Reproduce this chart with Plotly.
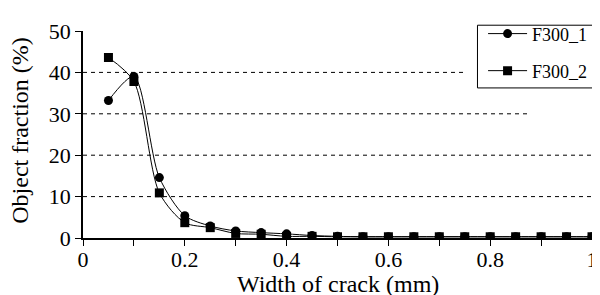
import plotly.graph_objects as go

width_mm = [0.05, 0.10, 0.15, 0.20, 0.25, 0.30, 0.35, 0.40, 0.45, 0.50,
            0.55, 0.60, 0.65, 0.70, 0.75, 0.80, 0.85, 0.90, 0.95, 1.00]
f300_1 = [33.2, 39.0, 14.6, 5.4, 2.9, 1.7, 1.3, 1.0, 0.6, 0.4,
          0.3, 0.3, 0.3, 0.3, 0.3, 0.3, 0.3, 0.3, 0.3, 0.3]
f300_2 = [43.6, 37.8, 10.9, 3.7, 2.5, 1.1, 0.9, 0.4, 0.4, 0.3,
          0.3, 0.3, 0.3, 0.3, 0.3, 0.3, 0.3, 0.3, 0.3, 0.3]
grid_levels = [10, 20, 30, 40]
grid_ends = [1.0, 1.0, 0.876, 0.753]

FONT = "Times New Roman, Liberation Serif, serif"

fig = go.Figure()
fig.add_trace(go.Scatter(x=width_mm, y=f300_1, name="F300_1", mode="lines+markers",
                         line=dict(color="black", width=1, shape="spline", smoothing=0.8),
                         marker=dict(symbol="circle", size=9, color="black"),
                         legend="legend"))
fig.add_trace(go.Scatter(x=width_mm, y=f300_2, name="F300_2", mode="lines+markers",
                         line=dict(color="black", width=1, shape="spline", smoothing=0.8),
                         marker=dict(symbol="square", size=9, color="black"),
                         legend="legend2"))

for lv, end in zip(grid_levels, grid_ends):
    fig.add_shape(type="line", xref="paper", yref="y", x0=0, x1=end, y0=lv, y1=lv,
                  line=dict(color="black", width=1, dash="4px,4px"), layer="below")

# legend frame
fig.add_shape(type="rect", xref="paper", yref="paper", x0=0.775, x1=1.05,
              y0=0.725, y1=1.028, line=dict(color="black", width=1),
              fillcolor="white", layer="below")

fig.add_annotation(text="Width of crack (mm)", xref="paper", yref="paper",
                   x=0.5, y=0, xanchor="center", yanchor="middle", yshift=-46,
                   showarrow=False, font=dict(family=FONT, size=24))
fig.add_annotation(text="Object fraction (%)", xref="paper", yref="paper",
                   x=0, y=0.518, xanchor="center", yanchor="middle", xshift=-63,
                   textangle=-90, showarrow=False, font=dict(family=FONT, size=24))

leg_common = dict(xref="paper", yref="paper", xanchor="left", yanchor="middle",
                  borderwidth=0, bgcolor="rgba(0,0,0,0)",
                  font=dict(family=FONT, size=18), itemwidth=39)

fig.update_layout(
    width=592, height=287,
    margin=dict(l=75, r=7, t=12, b=57),
    paper_bgcolor="white", plot_bgcolor="white",
    font=dict(family=FONT, size=22, color="black"),
    showlegend=True,
    legend=dict(x=0.786, y=0.986, **leg_common),
    legend2=dict(x=0.786, y=0.807, **leg_common),
    xaxis=dict(range=[0, 1], dtick=0.2, tick0=0, showgrid=False, zeroline=False,
               showline=True, linecolor="black", linewidth=1.5, automargin=False,
               ticks="outside", ticklen=6, tickcolor="black",
               tickfont=dict(family=FONT, size=22), ticklabelstandoff=-5,
               minor=dict(dtick=0.1, ticks="outside", ticklen=6, tickcolor="black")),
    yaxis=dict(range=[0, 50], dtick=10, showgrid=False, zeroline=False,
               showline=True, linecolor="black", linewidth=1.5, automargin=False,
               ticks="outside", ticklen=6, tickcolor="black",
               tickfont=dict(family=FONT, size=22)),
)

fig.write_html("out.html")
